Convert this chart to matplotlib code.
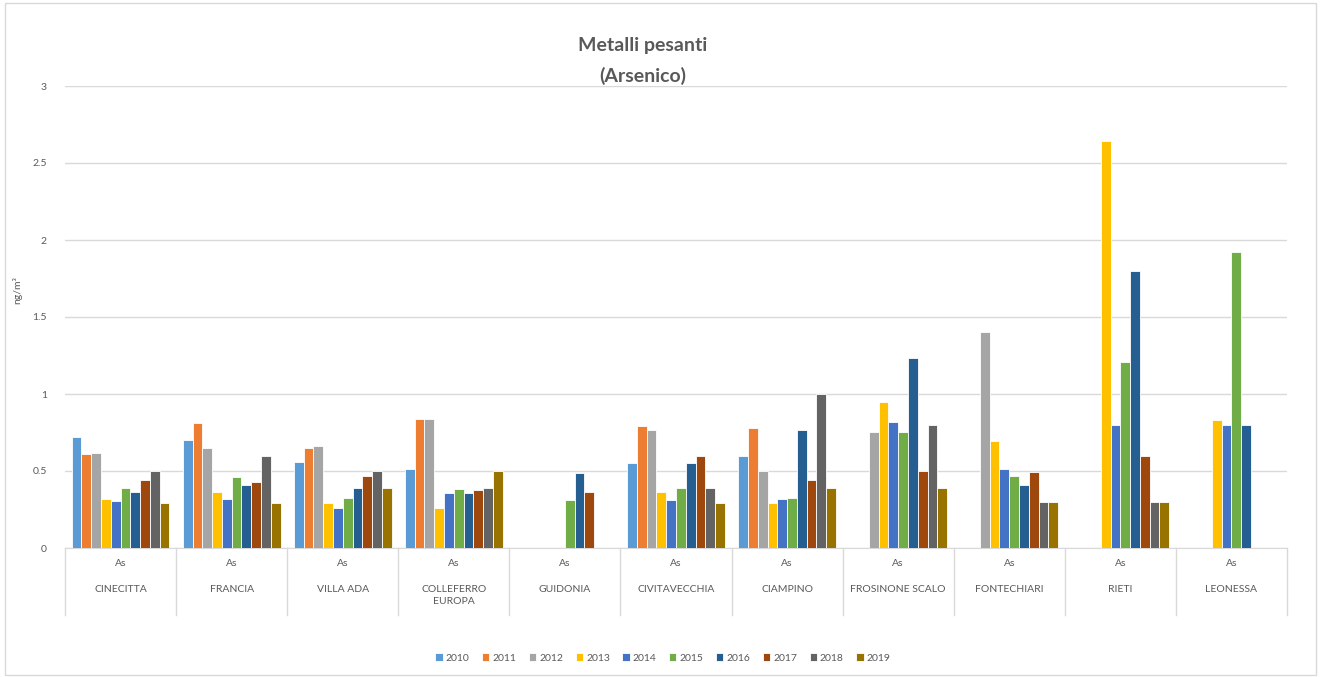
import numpy as np
import matplotlib
matplotlib.use("Agg")
import matplotlib.pyplot as plt
from matplotlib.patches import Rectangle
import matplotlib.transforms as mtransforms

plt.rcParams['font.family'] = ['Lato', 'DejaVu Sans']

stations = ["CINECITTA", "FRANCIA", "VILLA ADA", "COLLEFERRO\nEUROPA", "GUIDONIA",
            "CIVITAVECCHIA", "CIAMPINO", "FROSINONE SCALO", "FONTECHIARI", "RIETI", "LEONESSA"]
sublabel = "As"
years = ["2010", "2011", "2012", "2013", "2014", "2015", "2016", "2017", "2018", "2019"]
nan = np.nan
v2010 = [0.72, 0.70, 0.56, 0.51, nan, 0.55, 0.60, nan, nan, nan, nan]
v2011 = [0.61, 0.81, 0.65, 0.84, nan, 0.79, 0.78, nan, nan, nan, nan]
v2012 = [0.62, 0.65, 0.66, 0.84, nan, 0.765, 0.50, 0.755, 1.40, nan, nan]
v2013 = [0.315, 0.365, 0.29, 0.26, nan, 0.365, 0.29, 0.945, 0.695, 2.64, 0.83]
v2014 = [0.305, 0.315, 0.26, 0.355, nan, 0.31, 0.315, 0.82, 0.51, 0.80, 0.80]
v2015 = [0.39, 0.46, 0.325, 0.385, 0.31, 0.39, 0.325, 0.755, 0.465, 1.21, 1.92]
v2016 = [0.365, 0.41, 0.39, 0.355, 0.49, 0.555, 0.765, 1.235, 0.41, 1.80, 0.80]
v2017 = [0.44, 0.43, 0.47, 0.375, 0.365, 0.60, 0.44, 0.50, 0.495, 0.60, nan]
v2018 = [0.50, 0.60, 0.50, 0.39, nan, 0.39, 1.00, 0.80, 0.30, 0.30, nan]
v2019 = [0.295, 0.295, 0.39, 0.50, nan, 0.295, 0.39, 0.39, 0.30, 0.30, nan]
series = [v2010, v2011, v2012, v2013, v2014, v2015, v2016, v2017, v2018, v2019]
colors = ["#5B9BD5", "#ED7D31", "#A5A5A5", "#FFC000", "#4472C4",
          "#70AD47", "#255E91", "#9E480E", "#636363", "#997300"]

W, H = 1320, 677
fig = plt.figure(figsize=(W / 100, H / 100), dpi=100)
fig.patch.set_facecolor("white")
fig.add_artist(Rectangle((5 / W, 2 / H), 1311 / W, 672 / H, transform=fig.transFigure,
                         fill=False, edgecolor="#D9D9D9", lw=1))

left, right, y0, y3 = 65, 1287, 548, 86
ax = fig.add_axes([left / W, 1 - y0 / H, (right - left) / W, (y0 - y3) / H])

n = len(stations)
x = np.arange(n)
slot = 0.088
for j, (vals, c, yr) in enumerate(zip(series, colors, years)):
    ax.bar(x + (j - 4.5) * slot, vals, width=slot, color=c, edgecolor="white",
           linewidth=0.6, label=yr, zorder=3)

ax.set_xlim(-0.5, n - 0.5)
ax.set_ylim(0, 3)
ax.set_yticks([0, 0.5, 1, 1.5, 2, 2.5, 3])
ax.set_yticklabels(["0", "0.5", "1", "1.5", "2", "2.5", "3"])
ax.tick_params(axis="y", length=0, labelsize=7.5, labelcolor="#595959", pad=13)
ax.grid(axis="y", color="#D9D9D9", lw=1, zorder=0)
ax.set_xticks([])
for s in ["top", "right", "left"]:
    ax.spines[s].set_visible(False)
ax.spines["bottom"].set_color("#D9D9D9")
fig.text(17 / W, 1 - 290 / H, "ng/m³", rotation=90, ha="center", va="center",
         fontsize=7.5, color="#595959")

trans = mtransforms.blended_transform_factory(ax.transData, ax.transAxes)
ph = y0 - y3
for i in range(n + 1):
    ax.plot([i - 0.5, i - 0.5], [0, -(615 - 548) / ph], transform=trans,
            color="#D9D9D9", lw=1, clip_on=False)
for i, name in enumerate(stations):
    ax.text(i, -(563 - 548) / ph, sublabel, transform=trans, ha="center", va="center",
            fontsize=7.5, color="#595959")
    ax.text(i, -(585 - 548) / ph, name, transform=trans, ha="center", va="top",
            fontsize=7.5, color="#595959", linespacing=1.5)

fig.text(643 / W, 1 - 45 / H, "Metalli pesanti", ha="center", va="center",
         fontsize=14, fontweight="bold", color="#595959")
fig.text(643 / W, 1 - 76 / H, "(Arsenico)", ha="center", va="center",
         fontsize=14, fontweight="bold", color="#595959")

fig.legend(loc="center", bbox_to_anchor=(663 / W, 1 - 658 / H), ncol=10, frameon=False,
           fontsize=7.5, handlelength=0.7, handleheight=0.7, columnspacing=1.2,
           handletextpad=0.3, labelcolor="#595959")

fig.savefig("out.png", dpi=100, facecolor="white")
